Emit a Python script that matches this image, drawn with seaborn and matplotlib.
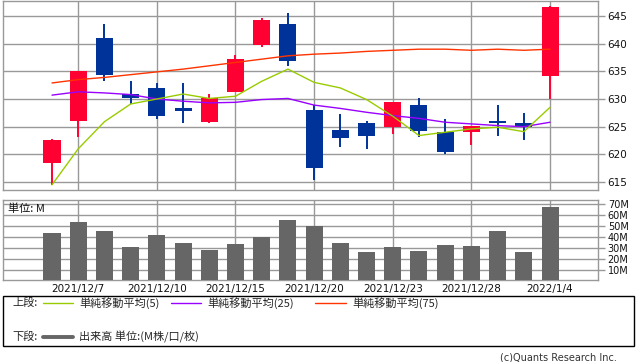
import numpy as np
import pandas as pd
import matplotlib
matplotlib.use("Agg")
import matplotlib.pyplot as plt
import seaborn as sns
from matplotlib.lines import Line2D
from matplotlib.patches import Rectangle

# ---------------- data ----------------
dates = ["2021/12/6", "2021/12/7", "2021/12/8", "2021/12/9", "2021/12/10",
         "2021/12/13", "2021/12/14", "2021/12/15", "2021/12/16", "2021/12/17",
         "2021/12/20", "2021/12/21", "2021/12/22", "2021/12/23", "2021/12/24",
         "2021/12/27", "2021/12/28", "2021/12/29", "2021/12/30", "2022/1/4"]
opens = [618.4, 626.1, 641.0, 630.9, 632.0, 628.4, 625.9, 631.2, 639.8, 643.6,
         628.0, 624.4, 625.7, 625.0, 628.9, 624.1, 624.0, 626.1, 625.7, 634.1]
highs = [622.8, 635.1, 643.6, 633.3, 632.9, 632.9, 630.9, 638.0, 644.6, 645.5,
         628.9, 627.3, 626.1, 629.5, 630.2, 626.4, 625.1, 628.9, 627.5, 646.8]
lows = [614.5, 623.1, 633.3, 629.1, 626.3, 625.6, 625.6, 631.2, 639.4, 636.0,
        615.4, 621.3, 621.0, 623.6, 623.2, 620.1, 621.7, 623.4, 622.6, 630.0]
closes = [622.6, 635.1, 634.4, 630.1, 627.0, 627.9, 630.1, 637.2, 644.3, 636.9,
          617.5, 622.9, 623.4, 629.5, 624.3, 620.5, 625.1, 625.6, 624.9, 646.7]
ma5 = [614.5, 621.0, 625.9, 629.1, 630.0, 630.9, 630.1, 630.5, 633.2, 635.4,
       633.0, 632.0, 629.9, 626.9, 623.4, 624.0, 624.6, 624.9, 624.1, 628.5]
ma25 = [630.7, 631.3, 631.1, 630.8, 630.0, 629.6, 629.3, 629.4, 629.9, 630.1,
        628.9, 628.3, 627.6, 627.0, 626.5, 625.8, 625.5, 625.2, 625.0, 625.8]
ma75 = [632.9, 633.5, 633.9, 634.4, 634.9, 635.4, 636.0, 636.6, 637.2, 637.8,
        638.1, 638.3, 638.6, 638.8, 639.0, 639.0, 638.8, 639.0, 638.8, 639.0]
volume_m = [43.9, 53.9, 45.8, 31.2, 42.1, 34.8, 28.5, 33.9, 40.3, 55.8,
            50.3, 34.8, 26.7, 31.2, 27.6, 33.0, 32.1, 45.8, 26.7, 67.6]
tick_dates = ["2021/12/7", "2021/12/10", "2021/12/15", "2021/12/20",
              "2021/12/23", "2021/12/28", "2022/1/4"]
price_ticks = [615, 620, 625, 630, 635, 640, 645]
vol_ticks = [10, 20, 30, 40, 50, 60, 70]

# ---------------- style ----------------
sns.set_style("white")
plt.rcParams["font.family"] = ["DejaVu Sans", "Noto Sans CJK JP"]
CJK = ["Noto Sans CJK JP", "DejaVu Sans"]

UP = "#FF0033"
DOWN = "#003399"
C5 = "#99CC00"
C25 = "#9900FF"
C75 = "#FF3300"
GRID = "#999999"
VOLC = "#666666"

W, H = 638, 362
fig = plt.figure(figsize=(W / 100, H / 100), dpi=100)


def fx(px):
    return px / W


def fy(py):
    return 1 - py / H


ax = fig.add_axes([fx(3), fy(190), fx(595), (190 - 0.7) / H])
axv = fig.add_axes([fx(3), fy(280.3), fx(595), 80.3 / H])

idx = np.arange(len(dates))
tick_pos = [dates.index(d) for d in tick_dates]
o = np.array(opens)
c = np.array(closes)
cols = [UP if cc >= oo else DOWN for oo, cc in zip(o, c)]

# candles
ax.vlines(idx, lows, highs, colors=cols, lw=1.4, zorder=3)
ax.bar(idx, np.abs(c - o), bottom=np.minimum(o, c), width=0.65,
       color=cols, zorder=4, linewidth=0)

df = pd.DataFrame({"x": idx, "ma5": ma5, "ma25": ma25, "ma75": ma75})
sns.lineplot(data=df, x="x", y="ma75", ax=ax, color=C75, lw=1.0, zorder=5)
sns.lineplot(data=df, x="x", y="ma25", ax=ax, color=C25, lw=1.0, zorder=5)
sns.lineplot(data=df, x="x", y="ma5", ax=ax, color=C5, lw=1.0, zorder=5)

xlim = (-1.87, 20.83)
ax.set_xlim(*xlim)
ax.set_ylim(613.56, 647.76)
ax.set_xticks(tick_pos)
ax.set_xticklabels([])
ax.set_yticks(price_ticks)
ax.yaxis.tick_right()
ax.tick_params(axis="x", length=0)
ax.tick_params(axis="y", length=5, width=1, color=GRID, pad=2,
               labelsize=7.5, labelcolor="#111111")
ax.grid(True, color=GRID, lw=1)
ax.set_axisbelow(True)
ax.set_xlabel("")
ax.set_ylabel("")
for s in ax.spines.values():
    s.set_color(GRID)
    s.set_linewidth(1)

# volume
vdf = pd.DataFrame({"x": idx, "v": volume_m})
sns.barplot(data=vdf, x="x", y="v", ax=axv, color=VOLC, saturation=1,
            width=0.65, zorder=3, linewidth=0)
axv.set_xlim(*xlim)
axv.set_ylim(0.9, 73.9)
axv.set_xticks(tick_pos)
axv.set_xticklabels(tick_dates)
axv.set_yticks(vol_ticks)
axv.set_yticklabels([f"{v}M" for v in vol_ticks])
axv.yaxis.tick_right()
axv.tick_params(axis="x", length=0, pad=3, labelsize=7.5, labelcolor="#111111")
axv.tick_params(axis="y", length=5, width=1, color=GRID, pad=2,
                labelsize=7, labelcolor="#111111")
axv.grid(True, color=GRID, lw=1)
axv.set_axisbelow(True)
axv.set_xlabel("")
axv.set_ylabel("")
for s in axv.spines.values():
    s.set_color(GRID)
    s.set_linewidth(1)

fig.text(fx(8), fy(209), "単位: M", family=CJK, fontsize=8,
         va="center", ha="left", color="#111111")

# legend box
fig.add_artist(Rectangle((fx(3), fy(346)), fx(631), 50.3 / H,
                         transform=fig.transFigure, fill=False,
                         ec="black", lw=1))
row1, row2 = 303, 337
fig.text(fx(12), fy(row1), "上段:", family=CJK, fontsize=8, va="center")
fig.text(fx(12), fy(row2), "下段:", family=CJK, fontsize=8, va="center")
for x0, x1, col, lab in [(43, 73, C5, "単純移動平均(5)"),
                         (171, 201, C25, "単純移動平均(25)"),
                         (315, 346, C75, "単純移動平均(75)")]:
    fig.add_artist(Line2D([fx(x0), fx(x1)], [fy(row1), fy(row1)],
                          transform=fig.transFigure, color=col, lw=1))
    fig.text(fx(x1 + 6), fy(row1), lab, family=CJK, fontsize=8, va="center")
fig.add_artist(Line2D([fx(43), fx(73)], [fy(row2), fy(row2)],
                      transform=fig.transFigure, color=VOLC, lw=2.8))
fig.text(fx(79), fy(row2), "出来高 単位:(M株/口/枚)", family=CJK,
         fontsize=8, va="center")

fig.text(fx(617), fy(357), "(c)Quants Research Inc.", fontsize=7,
         ha="right", va="center", color="#333333")

fig.savefig("out.png", dpi=100)
